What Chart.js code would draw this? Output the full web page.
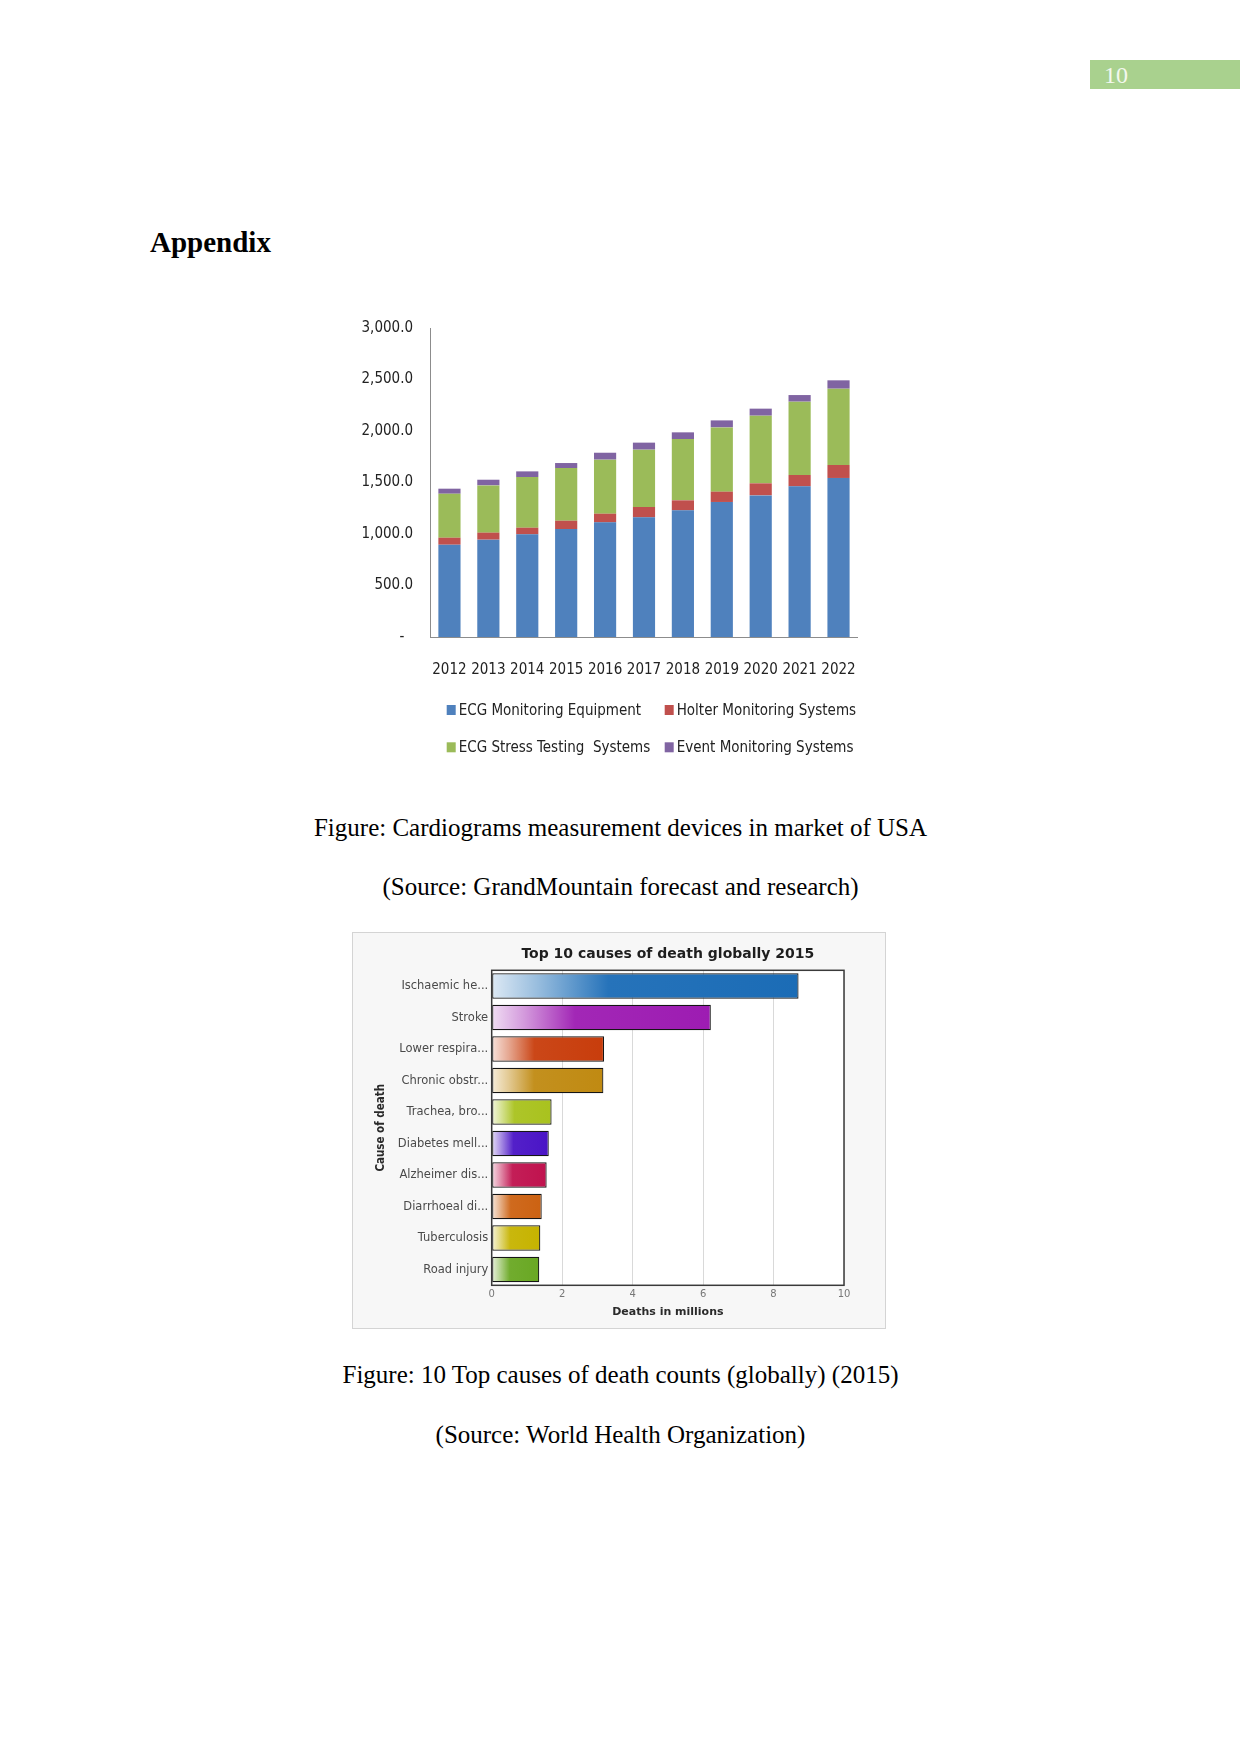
<!DOCTYPE html>
<html>
<head>
<meta charset="utf-8">
<script src="https://cdn.jsdelivr.net/npm/chart.js@4.4.1/dist/chart.umd.min.js"></script>
<style>
  html, body { margin: 0; padding: 0; background: #ffffff; }
  body { width: 1241px; height: 1754px; position: relative; overflow: hidden; }
  .abs { position: absolute; }
  .serif { font-family: 'Liberation Serif', 'Times New Roman', serif; color: #000; }
  .cap { left: 0; width: 1241px; text-align: center; font-size: 25px; line-height: 25px; white-space: nowrap; }
  #pageno { left: 1090px; top: 60px; width: 150px; height: 29px; background: #a9d18e; }
  #pageno span { position: absolute; left: 14px; top: 3px; font-size: 24px; line-height: 24px; color: #f3f8ee; }
  #box2 { left: 352px; top: 932px; width: 532px; height: 395px; border: 1px solid #d4d4d4; background: #f7f7f7; }
</style>
</head>
<body>
<div id="pageno" class="abs serif"><span>10</span></div>
<div class="abs serif" style="left:150px; top:228px; font-size:29px; line-height:29px; font-weight:bold;">Appendix</div>

<canvas id="c1" class="abs" width="540" height="480" style="left:340px; top:300px;"></canvas>

<div class="abs serif cap" style="top:815px;">Figure: Cardiograms measurement devices in market of USA</div>
<div class="abs serif cap" style="top:874px;">(Source: GrandMountain forecast and research)</div>

<div id="box2" class="abs"><canvas id="c2" width="532" height="395"></canvas></div>

<div class="abs serif cap" style="top:1362px;">Figure: 10 Top causes of death counts (globally) (2015)</div>
<div class="abs serif cap" style="top:1422px;">(Source: World Health Organization)</div>

<script>
// ---------- Chart 1 data ----------
const years = ['2012', '2013', '2014', '2015', '2016', '2017', '2018', '2019', '2020', '2021', '2022'];
const ecgMonitoring = [896, 945, 997, 1048, 1113, 1162, 1230, 1311, 1375, 1463, 1544];
const holterMonitoring = [68, 68, 64, 81, 84, 100, 97, 100, 117, 110, 126];
const stressTesting = [427, 459, 492, 512, 525, 557, 595, 624, 657, 712, 741];
const eventMonitoring = [49, 55, 55, 48, 67, 68, 65, 68, 68, 64, 81];
const seriesNames = ['ECG Monitoring Equipment', 'Holter Monitoring Systems', 'ECG Stress Testing  Systems', 'Event Monitoring Systems'];
const yTickLabels = ['-  ', '500.0', '1,000.0', '1,500.0', '2,000.0', '2,500.0', '3,000.0'];

// ---------- Chart 2 data ----------
const chart2Title = 'Top 10 causes of death globally 2015';
const causes = ['Ischaemic he...', 'Stroke', 'Lower respira...', 'Chronic obstr...', 'Trachea, bro...', 'Diabetes mell...', 'Alzheimer dis...', 'Diarrhoeal di...', 'Tuberculosis', 'Road injury'];
const deaths = [8.71, 6.22, 3.19, 3.17, 1.70, 1.62, 1.56, 1.42, 1.38, 1.35];
const xTickLabels = ['0', '2', '4', '6', '8', '10'];
const xAxisTitle = 'Deaths in millions';
const yAxisTitle = 'Cause of death';

// ---------- styles ----------
const seriesColors = ['#4f81bd', '#c0504d', '#9bbb59', '#8064a2'];
const causeColors = ['#1b6cb6', '#9d1cb2', '#c83d0c', '#c08a12', '#a9c21e', '#4a14c6', '#c0124e', '#cc6212', '#c6b300', '#69a823'];

// find a narrow sans font (like Arial Narrow) among the installed ones
function detectNarrow() {
  const ctx = document.createElement('canvas').getContext('2d');
  const sample = 'ECG Monitoring Equipment';
  const w = f => { ctx.font = f; return ctx.measureText(sample).width; };
  const mono = w("100px monospace");
  const narrowNames = ["'Liberation Sans Narrow'", "'Arial Narrow'", "'DejaVu Sans Condensed'", "'Roboto Condensed'", "'Open Sans Condensed'", "'Noto Sans Condensed'"];
  for (const fam of narrowNames) {
    if (Math.abs(w("100px " + fam + ", monospace") - mono) > 1) {
      return { pre: '', family: fam, size: Math.min(20, 183 * 100 / w("100px " + fam)) };
    }
  }
  for (const fam of ["'Noto Sans'", "'Open Sans'", "'DejaVu Sans'", "Roboto", "'Liberation Sans'"]) {
    const n = w("100px " + fam), c = w("condensed 100px " + fam);
    if (c < n * 0.9) {
      let best = null;
      for (const st of ['semi-condensed', 'condensed', 'extra-condensed']) {
        const size = 183 * 100 / w(st + " 100px " + fam);
        if (!best || Math.abs(size - 19.5) < Math.abs(best.size - 19.5)) best = { pre: st, family: fam, size };
      }
      best.size = Math.max(14, Math.min(20, best.size));
      return best;
    }
  }
  return { pre: '', family: "'Liberation Sans'", size: 15 };
}
const NF = detectNarrow();
const NARROW = NF.family + ", 'Liberation Sans', sans-serif";
const NARROW_SIZE = Math.round(NF.size * 2) / 2;

function mixWhite(hex, t) {
  const n = parseInt(hex.slice(1), 16);
  const r = (n >> 16) & 255, g = (n >> 8) & 255, b = n & 255;
  const m = v => Math.round(v + (255 - v) * t);
  return 'rgb(' + m(r) + ',' + m(g) + ',' + m(b) + ')';
}

// Legend drawn as a 2x2 grid (like the Excel original)
const gridLegend = {
  id: 'gridLegend',
  afterDraw(chart, args, opts) {
    const ctx = chart.ctx;
    ctx.save();
    ctx.font = (NF.pre ? NF.pre + ' ' : '') + NARROW_SIZE + 'px ' + NARROW;
    ctx.textBaseline = 'middle';
    ctx.textAlign = 'left';
    chart.data.datasets.forEach((ds, i) => {
      const col = i % 2, row = Math.floor(i / 2);
      const bx = opts.colX[col], cy = opts.rowY[row];
      ctx.fillStyle = ds.backgroundColor;
      ctx.fillRect(bx, cy - opts.boxH / 2, opts.boxW, opts.boxH);
      ctx.fillStyle = opts.color;
      ctx.fillText(ds.label, bx + opts.boxW + opts.gap, cy + 1);
    });
    ctx.restore();
  }
};

const narrowFont = { family: NARROW, size: NARROW_SIZE, weight: NF.pre || null };

new Chart(document.getElementById('c1'), {
  type: 'bar',
  data: {
    labels: years,
    datasets: [
      { label: seriesNames[0], data: ecgMonitoring, backgroundColor: seriesColors[0] },
      { label: seriesNames[1], data: holterMonitoring, backgroundColor: seriesColors[1] },
      { label: seriesNames[2], data: stressTesting, backgroundColor: seriesColors[2] },
      { label: seriesNames[3], data: eventMonitoring, backgroundColor: seriesColors[3] }
    ]
  },
  options: {
    responsive: false,
    animation: false,
    layout: { padding: { left: 0, top: 28, right: 7, bottom: 93 } },
    datasets: { bar: { barPercentage: 0.57, categoryPercentage: 1.0, borderWidth: 0 } },
    plugins: {
      legend: { display: false },
      tooltip: { enabled: false },
      gridLegend: { colX: [106.7, 324.7], rowY: [410, 447.3], boxW: 9, boxH: 10, gap: 3, color: '#222' }
    },
    scales: {
      x: {
        stacked: true,
        grid: { display: false, drawTicks: false },
        border: { display: true, color: '#8c8c8c', width: 1 },
        ticks: { font: narrowFont, color: '#222', padding: 24, maxRotation: 0, autoSkip: false },
        afterFit: s => { s.height = 50; }
      },
      y: {
        stacked: true,
        min: 0, max: 3000,
        grid: { display: false, drawTicks: false },
        border: { display: true, color: '#8c8c8c', width: 1 },
        ticks: { stepSize: 500, padding: 17, font: narrowFont, color: '#222',
                 callback: (v, i) => yTickLabels[i] },
        afterFit: s => { s.width = 90; }
      }
    }
  },
  plugins: [gridLegend]
});

// ---------- Chart 2 ----------
const plotFrame = {
  id: 'plotFrame',
  beforeDraw(chart) {
    const a = chart.chartArea, ctx = chart.ctx;
    ctx.save();
    ctx.fillStyle = '#ffffff';
    ctx.fillRect(a.left, a.top, a.right - a.left, a.bottom - a.top);
    ctx.restore();
  },
  afterDatasetsDraw(chart) {
    const a = chart.chartArea, ctx = chart.ctx;
    ctx.save();
    ctx.strokeStyle = '#3a3a3a';
    ctx.lineWidth = 1.5;
    ctx.strokeRect(a.left, a.top, a.right - a.left, a.bottom - a.top);
    ctx.restore();
  }
};

new Chart(document.getElementById('c2'), {
  type: 'bar',
  data: {
    labels: causes,
    datasets: [{
      label: xAxisTitle,
      data: deaths,
      borderColor: '#151515',
      borderWidth: 1.2,
      borderSkipped: false,
      barPercentage: 0.81,
      categoryPercentage: 1.0,
      backgroundColor: (c) => {
        const base = causeColors[c.dataIndex];
        const chart = c.chart;
        if (!chart.chartArea || !chart.scales.x) return base;
        const xs = chart.scales.x;
        const x0 = xs.getPixelForValue(0);
        const x1 = xs.getPixelForValue(deaths[c.dataIndex]);
        const g = chart.ctx.createLinearGradient(x0, 0, x1, 0);
        g.addColorStop(0, mixWhite(base, 0.85));
        g.addColorStop(0.15, mixWhite(base, 0.55));
        g.addColorStop(0.38, mixWhite(base, 0.05));
        g.addColorStop(1, base);
        return g;
      }
    }]
  },
  options: {
    indexAxis: 'y',
    responsive: false,
    animation: false,
    layout: { padding: { left: 0, top: 0, right: 41, bottom: 0 } },
    plugins: {
      legend: { display: false },
      tooltip: { enabled: false },
      title: { display: true, text: chart2Title, fullSize: false, color: '#1e1e1e',
               font: { family: "'DejaVu Sans', Verdana, sans-serif", size: 14, weight: 'bold' },
               padding: { top: 13, bottom: 7.5 } }
    },
    scales: {
      x: {
        min: 0, max: 10,
        grid: { color: '#d9d9d9', drawTicks: false },
        border: { display: false },
        ticks: { stepSize: 2, padding: 3, color: '#777', font: { family: "'DejaVu Sans', sans-serif", size: 10 },
                 callback: (v, i) => xTickLabels[i] },
        title: { display: true, text: xAxisTitle, color: '#2a2a2a',
                 font: { family: "'DejaVu Sans', sans-serif", size: 11, weight: 'bold' },
                 padding: { top: 0, bottom: 9.7 } },
        afterFit: s => { s.height = 42.7; }
      },
      y: {
        grid: { display: false, drawTicks: false },
        border: { display: false },
        ticks: { padding: 3.5, color: '#4a4a4a', font: { family: "'DejaVu Sans', sans-serif", size: 11.5 }, autoSkip: false },
        title: { display: true, text: yAxisTitle, color: '#2a2a2a',
                 font: { family: NARROW, size: 11.5, weight: NF.pre ? 'bold ' + NF.pre : 'bold' },
                 padding: { top: 21, bottom: 0 } },
        afterFit: s => { s.width = 138.7; }
      }
    }
  },
  plugins: [plotFrame]
});
</script>
</body>
</html>
